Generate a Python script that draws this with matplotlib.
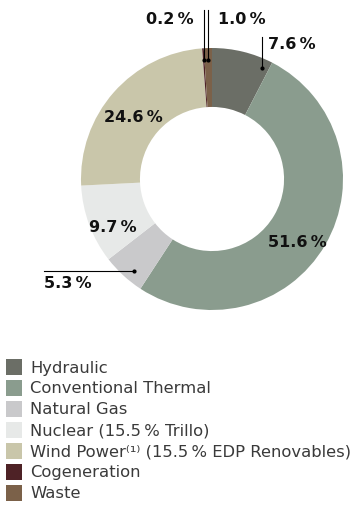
import numpy as np
import matplotlib
matplotlib.use("Agg")
import matplotlib.pyplot as plt
from matplotlib.patches import Rectangle

plt.rcParams['font.family'] = ['DejaVu Sans']

categories = ["Hydraulic", "Conventional Thermal", "Natural Gas",
              "Nuclear (15.5\u2009% Trillo)",
              "Wind Power\u207d\u00b9\u207e (15.5\u2009% EDP Renovables)",
              "Cogeneration", "Waste"]
shares = [7.6, 51.6, 5.3, 9.7, 24.6, 0.2, 1.0]
colors = ["#6b6e66", "#8a9c8e", "#c9c9cb", "#e7e9e8", "#c9c6aa", "#4e2226", "#7b6149"]

W, H = 362, 506
fig = plt.figure(figsize=(W / 100, H / 100), dpi=100)

cx, cy, R = 212, 180, 131
ax = fig.add_axes([(cx - R) / W, 1 - (cy + R) / H, 2 * R / W, 2 * R / H])

wedges, _ = ax.pie(shares, colors=colors, startangle=90, counterclock=False,
                   radius=1.0, wedgeprops=dict(width=0.45, linewidth=0))
ax.set_xlim(-1, 1)
ax.set_ylim(-1, 1)
ax.set_aspect('equal')
ax.axis('off')

def fmt(v):
    return f"{v:.1f}\u2009%"

lbl = dict(fontsize=11.5, fontweight='bold', color='#111111')

def mid_angle(i, frac=0.5):
    start = 90 - 3.6 * sum(shares[:i])
    return np.deg2rad(start - 3.6 * shares[i] * frac)

def polar(r, a):
    return r * np.cos(a), r * np.sin(a)

def px(x, y):
    return (x - cx) / R, (cy - y) / R

# labels sitting inside the ring (pixel anchors)
for i, (x, y) in [(1, (297, 243)), (3, (113, 228)), (4, (133, 118))]:
    ax.text(*px(x, y), fmt(shares[i]), ha='center', va='center', **lbl)

# leader lines for the narrow slices
# Hydraulic
dx, dy = polar(0.93, mid_angle(0, 0.88))
ax.plot([dx, dx], [dy, px(0, 38)[1]], color='black', lw=0.8, clip_on=False)
ax.plot(dx, dy, 'o', color='black', ms=2)
ax.text(dx + 0.045, px(0, 45)[1], fmt(shares[0]), ha='left', va='center',
        clip_on=False, **lbl)

# Cogeneration and Waste
top2 = px(0, 11)[1]
for i, side in [(5, 'right'), (6, 'left')]:
    x, y = polar(0.91, mid_angle(i))
    ax.plot([x, x], [y, top2], color='black', lw=0.8, clip_on=False)
    ax.plot(x, y, 'o', color='black', ms=2)
    off = -0.075 if side == 'right' else 0.075
    ax.text(x + off, px(0, 20)[1], fmt(shares[i]), ha=side, va='center',
            clip_on=False, **lbl)

# Natural Gas
x, y = polar(0.92, mid_angle(2, 0.39))
ax.plot([px(44, 0)[0], x], [y, y], color='black', lw=0.8, clip_on=False)
ax.plot(x, y, 'o', color='black', ms=2)
ax.text(px(44, 0)[0], px(0, 284)[1], fmt(shares[2]), ha='left', va='center',
        clip_on=False, **lbl)

# legend
y0, step = 368, 21
for k, (name, c) in enumerate(zip(categories, colors)):
    yc = y0 + k * step
    fig.patches.append(Rectangle((6 / W, 1 - (yc + 8) / H), 16 / W, 16 / H,
                                 transform=fig.transFigure, facecolor=c,
                                 edgecolor='none'))
    fig.text(30 / W, 1 - yc / H, name, ha='left', va='center',
             fontsize=11.8, color='#3a3a3a')

fig.savefig("out.png", dpi=100, facecolor='white')
